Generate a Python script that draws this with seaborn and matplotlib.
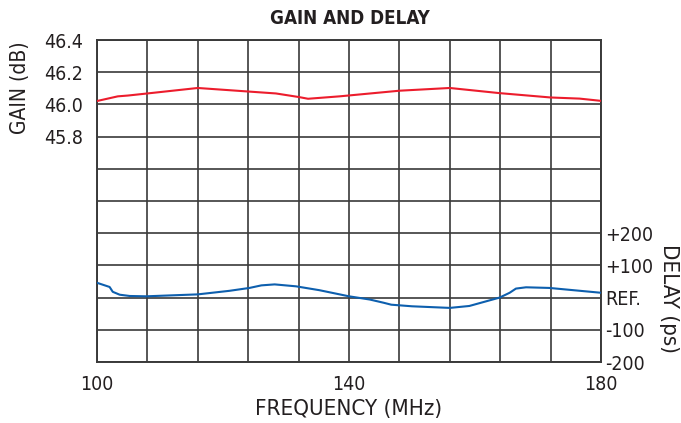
import numpy as np
import pandas as pd
import matplotlib
matplotlib.use("Agg")
import matplotlib.pyplot as plt
from matplotlib import font_manager
import seaborn as sns

# dati
gain_freq = [100, 103.3, 104.9, 108, 116, 124, 128.4, 132, 133.5, 138.5, 148, 156, 163.9, 172, 176.6, 180]
gain_db = [46.021, 46.050, 46.055, 46.068, 46.102, 46.080, 46.068, 46.046, 46.035, 46.050,
           46.085, 46.102, 46.070, 46.043, 46.036, 46.022]

delay_freq = [100, 102, 102.5, 103.6, 105.2, 107.8, 116, 121, 124.2, 126.1, 128.2, 131.6, 135.3,
              140, 143.3, 145.5, 146.7, 150, 156, 159.1, 163.9, 165.5, 166.5, 168.1, 171.8, 180]
delay_ps = [46, 33, 18, 9, 5, 4, 10, 21, 30, 38, 41, 35, 23,
            4, -6, -16, -22, -27, -32, -26, 0, 15, 28, 32, 30, 15]

gain_ticks = [45.8, 46.0, 46.2, 46.4]
delay_ticks = [-200, -100, 0, 100, 200]
delay_labels = ["-200", "-100", "REF.", "+100", "+200"]
freq_labels = [100, 140, 180]

INK = "#231f20"
GRID = "#3a3a3a"

sns.set_theme(style="white")

# cerco un font stretto (tipo Helvetica Condensed) se c'e'
fonts = font_manager.fontManager.ttflist
names = {f.name for f in fonts}
stretch = "normal"
if "Liberation Sans Narrow" in names:
    family = ["Liberation Sans Narrow", "DejaVu Sans"]
    fs = 16
elif any(f.name == "DejaVu Sans" and f.stretch == "condensed" for f in fonts):
    family = ["DejaVu Sans", "DejaVu Sans"]
    stretch = "condensed"
    fs = 14
else:
    family = ["Liberation Sans", "DejaVu Sans"]
    fs = 14
plt.rcParams['font.family'] = family
plt.rcParams['font.stretch'] = stretch

fig = plt.figure(figsize=(6.81, 4.23), dpi=100)
ax = fig.add_axes([97 / 681, 1 - 362 / 423, 504 / 681, 322 / 423])

df_gain = pd.DataFrame({"freq": gain_freq, "gain": gain_db})
df_delay = pd.DataFrame({"freq": delay_freq, "delay": delay_ps})

sns.lineplot(data=df_gain, x="freq", y="gain", ax=ax, color="#ec1c2c", linewidth=1.5, zorder=5)

ax.set_xlim(100, 180)
ax.set_ylim(44.4, 46.4)
xt = np.arange(100, 181, 8)
ax.set_xticks(xt)
ax.set_xticklabels([str(v) if v in freq_labels else "" for v in xt])
yt = np.round(np.arange(44.4, 46.41, 0.2), 1)
ax.set_yticks(yt)
ax.set_yticklabels([f"{v:.1f}" if v in gain_ticks else "" for v in yt])
ax.grid(True, color=GRID, linewidth=1.2)
ax.set_axisbelow(True)
ax.tick_params(length=0, labelsize=fs, colors=INK)
ax.tick_params(axis="y", pad=10)
ax.tick_params(axis="x", pad=9)
ax.set_xlabel("FREQUENCY (MHz)", fontsize=fs + 2, color=INK, labelpad=4)
ax.set_ylabel("")
for s in ax.spines.values():
    s.set_color(GRID)
    s.set_linewidth(1.4)

ax2 = ax.twinx()
sns.lineplot(data=df_delay, x="freq", y="delay", ax=ax2, color="#0d5fae", linewidth=1.5, zorder=5)
ax2.set_ylim(-200, 800)
ax2.set_yticks(delay_ticks)
ax2.set_yticklabels(delay_labels)
ax2.tick_params(length=0, labelsize=fs, colors=INK, pad=3)
ax2.set_ylabel("")
ax2.grid(False)
for s in ax2.spines.values():
    s.set_visible(False)

fig.text(20 / 681, 1 - 88 / 423, "GAIN (dB)", rotation=90, ha="center", va="center",
         fontsize=fs + 1, color=INK)
fig.text(669 / 681, 1 - 298 / 423, "DELAY (ps)", rotation=-90, ha="center", va="center",
         fontsize=fs + 2, color=INK)
fig.text(350 / 681, 1 - 18 / 423, "GAIN AND DELAY", ha="center", va="center",
         fontsize=fs - 0.5, fontweight="bold", color=INK)

fig.savefig("out.png", dpi=100)
